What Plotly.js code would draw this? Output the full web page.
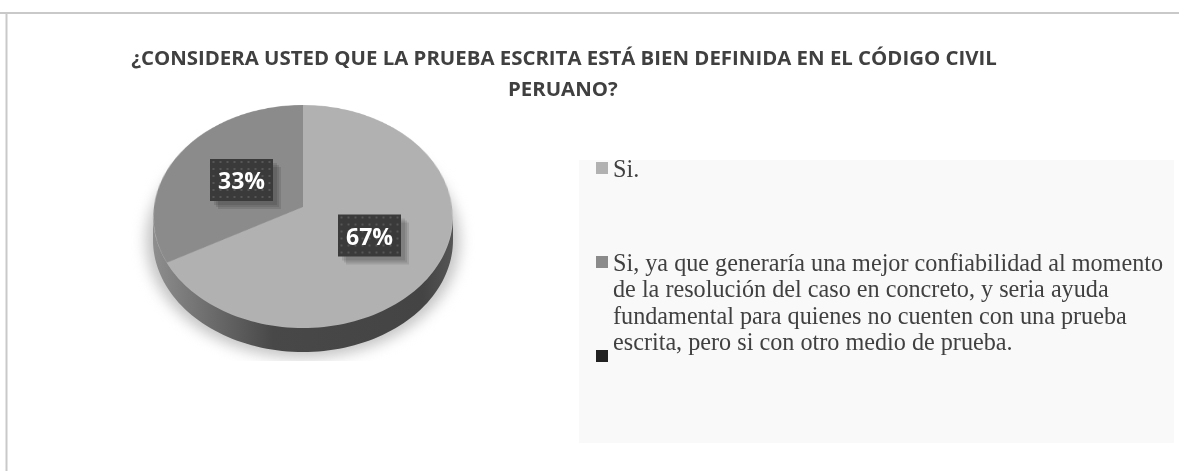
<!DOCTYPE html>
<html>
<head>
<meta charset="utf-8">
<script src="https://cdn.plot.ly/plotly-3.0.1.min.js"></script>
<style>
	html, body { margin: 0; padding: 0; background: #fff; }
	#stage { position: relative; width: 1179px; height: 471px; overflow: hidden; }
	#chart { position: absolute; left: 0; top: 0; width: 1179px; height: 471px; }
	#pie_shadow { position: absolute; left: 146px; top: 124px; width: 314px; height: 234px; border-radius: 50%; background: #c4c4c4; filter: blur(7px); }
	#pie_holder { position: absolute; left: 154px; top: 58px; width: 298px; height: 298px; }
	#pie { width: 298px; height: 298px; transform: perspective(1116px) rotateX(41.8deg); }
</style>
</head>
<body>
<div id="stage">
	<div id="pie_shadow"></div>
	<div id="pie_holder"><div id="pie"></div></div>
	<div id="chart"></div>
</div>
<script>
var titleLines = ['¿CONSIDERA USTED QUE LA PRUEBA ESCRITA ESTÁ BIEN DEFINIDA EN EL CÓDIGO CIVIL', 'PERUANO?'];
var categories = ['Si.', 'Si, ya que generaría una mejor confiabilidad al momento de la resolución del caso en concreto, y seria ayuda fundamental para quienes no cuenten con una prueba escrita, pero si con otro medio de prueba.', ''];
var values = [67, 33, 0];
var sliceColors = ['#b1b1b1', '#8b8b8b', '#222222'];
var legendLines = [
	['Si.'],
	['Si, ya que generaría una mejor confiabilidad al momento', 'de la resolución del caso en concreto, y seria ayuda', 'fundamental para quienes no cuenten con una prueba', 'escrita, pero si con otro medio de prueba.'],
	[]
];
var legendY = [168, 262, 356];
var labelX = [369.5, 241.5];
var labelY = [235.5, 180];

window.onload = function () {
	drawPie();
	drawChart();
}

function drawPie() {
	var data = [{
		type: 'pie',
		labels: categories,
		values: values,
		sort: false,
		direction: 'clockwise',
		rotation: 0,
		textinfo: 'none',
		marker: { colors: sliceColors, line: { width: 0 } }
	}];
	var layout = {
		margin: { l: 0, r: 0, t: 0, b: 0 },
		width: 298,
		height: 298,
		showlegend: false,
		paper_bgcolor: 'rgba(0,0,0,0)'
	};
	Plotly.newPlot('pie', data, layout, { staticPlot: true, displayModeBar: false });
}

// the side wall of the tilted pie, below the front edge
function sideWall() {
	var cx = 303, cy = 217, rx = 150, ry = 112, depth = 23;
	var x = [], y = [];
	for (var a = 0; a <= 180; a += 2) {
		var t = a * Math.PI / 180;
		x.push(cx + rx * Math.cos(t));
		y.push(cy + ry * Math.sin(t) - 1);
	}
	for (var b = 180; b >= 0; b -= 2) {
		var u = b * Math.PI / 180;
		x.push(cx + rx * Math.cos(u));
		y.push(cy + ry * Math.sin(u) + depth);
	}
	return {
		type: 'scatter', mode: 'none', x: x, y: y, fill: 'toself',
		fillgradient: {
			type: 'horizontal',
			colorscale: [[0, '#8e8e8e'], [0.1, '#7c7c7c'], [0.4, '#484848'], [0.9, '#444444'], [1, '#555555']]
		},
		showlegend: false
	};
}

// the little dots in the dark label boxes
function labelDots() {
	var x = [], y = [];
	labelX.forEach(function (lx, i) {
		for (var dx = -28; dx <= 28; dx += 7) {
			for (var dy = -18; dy <= 18; dy += 7) {
				x.push(lx + dx);
				y.push(labelY[i] + dy);
			}
		}
	});
	return {
		type: 'scatter', mode: 'markers', x: x, y: y, showlegend: false,
		marker: { symbol: 'square', size: 2, color: '#565656', line: { width: 0 } }
	};
}

function drawChart() {
	var markerX = [], markerY = [];
	var annotations = [];
	var shapes = [
		{ type: 'line', x0: 0, x1: 1179, y0: 13, y1: 13, line: { color: '#c9c9c9', width: 2 } },
		{ type: 'line', x0: 6.5, x1: 6.5, y0: 12, y1: 471, line: { color: '#c9c9c9', width: 2 } },
		{ type: 'rect', x0: 579, x1: 1174, y0: 160, y1: 443, line: { width: 0 }, fillcolor: '#f9f9f9', layer: 'below' },
		{ type: 'rect', x0: 130, x1: 480, y0: 361, y1: 380, line: { width: 0 }, fillcolor: '#ffffff', layer: 'below' }
	];

	annotations.push({
		x: 563, y: 88, xref: 'x', yref: 'y', text: titleLines[1], showarrow: false,
		font: { family: 'Open Sans', size: 20.4, color: '#404040', weight: 700 }
	});

	legendLines.forEach(function (lines, i) {
		markerX.push(602);
		markerY.push(legendY[i]);
		lines.forEach(function (line, j) {
			annotations.push({
				x: 611, y: legendY[i] + j * 26.6, xref: 'x', yref: 'y', xanchor: 'left', text: line,
				showarrow: false, font: { family: 'Liberation Serif', size: 24.2, color: '#404040' }
			});
		});
	});

	values.slice(0, 2).forEach(function (v, i) {
		// soft shadow made of three stacked boxes, all under the dots
		[[4, 0.1], [6, 0.1], [8, 0.1]].forEach(function (s) {
			shapes.push({
				type: 'rect', x0: labelX[i] - 31.5 + s[0], x1: labelX[i] + 31.5 + s[0], y0: labelY[i] - 21 + s[0], y1: labelY[i] + 21 + s[0],
				line: { width: 0 }, fillcolor: 'rgba(0,0,0,' + s[1] + ')', layer: 'below'
			});
		});
		shapes.push({
			type: 'rect', x0: labelX[i] - 31.5, x1: labelX[i] + 31.5, y0: labelY[i] - 21, y1: labelY[i] + 21,
			line: { width: 0 }, fillcolor: '#3a3a3a', layer: 'below'
		});
		annotations.push({
			x: labelX[i], y: labelY[i], xref: 'x', yref: 'y', text: '<b>' + v + '%</b>', showarrow: false,
			font: { family: 'Open Sans', size: 23, color: '#ffffff' }
		});
	});

	var data = [
		sideWall(),
		labelDots(),
		{
			type: 'scatter', mode: 'markers', x: markerX, y: markerY, showlegend: false,
			marker: { symbol: 'square', size: 12, color: sliceColors, line: { width: 0 } }
		}
	];
	var layout = {
		width: 1179,
		height: 471,
		margin: { l: 0, r: 0, t: 0, b: 0 },
		paper_bgcolor: 'rgba(0,0,0,0)',
		plot_bgcolor: 'rgba(0,0,0,0)',
		title: {
			text: titleLines[0], x: 564 / 1179, xanchor: 'center', y: 1 - 58 / 471, yanchor: 'middle',
			font: { family: 'Open Sans', size: 20.4, color: '#404040', weight: 700 }
		},
		xaxis: { range: [0, 1179], visible: false, fixedrange: true },
		yaxis: { range: [471, 0], visible: false, fixedrange: true },
		shapes: shapes,
		annotations: annotations
	};
	Plotly.newPlot('chart', data, layout, { staticPlot: true, displayModeBar: false });
}
</script>
</body>
</html>
